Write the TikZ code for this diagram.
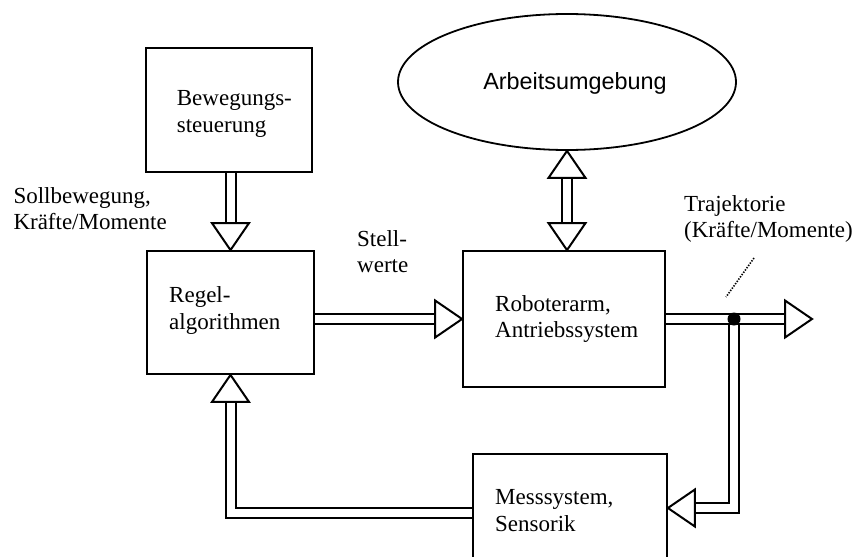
\documentclass[tikz,border=0pt]{standalone}
\usepackage{fontspec}
\setmainfont{Liberation Serif}
\newfontfamily\arialfont{Liberation Sans}
\usetikzlibrary{calc,shapes.geometric,backgrounds}
\newcommand\hhead[2]{\draw[headtri, shift={(#1)}, rotate=#2] (0,0) -- (-27,18.5) -- (-27,-18.5) -- cycle;}
\begin{document}
\begin{tikzpicture}[x=1pt,y=-1pt,
  box/.style={draw, line width=1.8pt, fill=white, inner sep=0pt, rectangle},
  lbl/.style={anchor=north west, inner sep=0pt, align=left, font=\fontsize{23}{26.3}\selectfont},
  shaft/.style={draw, line width=2pt, double=white, double distance=8pt, line join=miter},
  headtri/.style={draw, fill=white, line width=2pt, line join=miter},
  dotline/.style={line width=1.6pt, dash pattern=on 1.4pt off 1.4pt}
]
\path[use as bounding box, clip] (0,0) rectangle (857,557);

% boxes
\node[box, minimum width=166pt, minimum height=124pt] (bew) at (229,110) {};
\node[box, minimum width=167pt, minimum height=123pt] (regel) at (230.5,312.5) {};
\node[box, minimum width=202pt, minimum height=136pt] (robot) at (564,319) {};
\node[box, minimum width=194pt, minimum height=108pt] (mess) at (570,508) {};
\node[draw, ellipse, line width=1.8pt, fill=white, inner sep=0pt, minimum width=338pt, minimum height=136pt] (env) at (567,82) {};

% free ends
\coordinate (out) at (812,319);
\coordinate (j) at (734,319);
\coordinate (dA) at (754,258);
\coordinate (dB) at (726,297);

% shafts
\begin{pgfonlayer}{background}
\draw[shaft] (bew.south -| regel.north) -- ($(regel.north)+(0,-27)$);
\draw[shaft] (robot.west -| regel.east) -- ($(robot.west)+(-27,0)$);
\draw[shaft] ($(env.south)+(0,27)$) -- ($(robot.north -| env.south)+(0,-27)$);
\draw[shaft] (j) |- ($(mess.east)+(27,0)$);
\draw[shaft] (robot.east) -- ($(out)+(-27,0)$);
\draw[shaft] ($(mess.west)+(0,4.5)$) -| ($(regel.south)+(0,27)$);
\end{pgfonlayer}

% heads
\hhead{regel.north}{-90}
\hhead{robot.west}{0}
\hhead{env.south}{90}
\hhead{robot.north -| env.south}{-90}
\hhead{out}{0}
\hhead{mess.east}{180}
\hhead{regel.south}{90}

% junction and pointer
\fill (j) circle (6.5);
\draw[dotline] (dA) -- (dB);

% labels
\node[lbl] (tbew) at (176.7,90.5) {Bewegungs-\\steuerung};
\node[lbl] (tsoll) at (13.3,187) {Sollbewegung,\\Kräfte/Momente};
\node[lbl] (tstell) at (357,230.5) {Stell-\\werte};
\node[lbl] (tregel) at (169,286.8) {Regel-\\algorithmen};
\node[lbl] (trobot) at (495,295) {Roboterarm,\\Antriebssystem};
\node[lbl] (tmess) at (495,489.5) {Messsystem,\\Sensorik};
\node[lbl] (ttraj) at (684,195) {Trajektorie\\(Kräfte/Momente)};
\node[anchor=base, inner sep=0pt, font=\arialfont\fontsize{23.4}{26}\selectfont] (tenv) at (575,89) {Arbeitsumgebung};
\end{tikzpicture}
\end{document}
